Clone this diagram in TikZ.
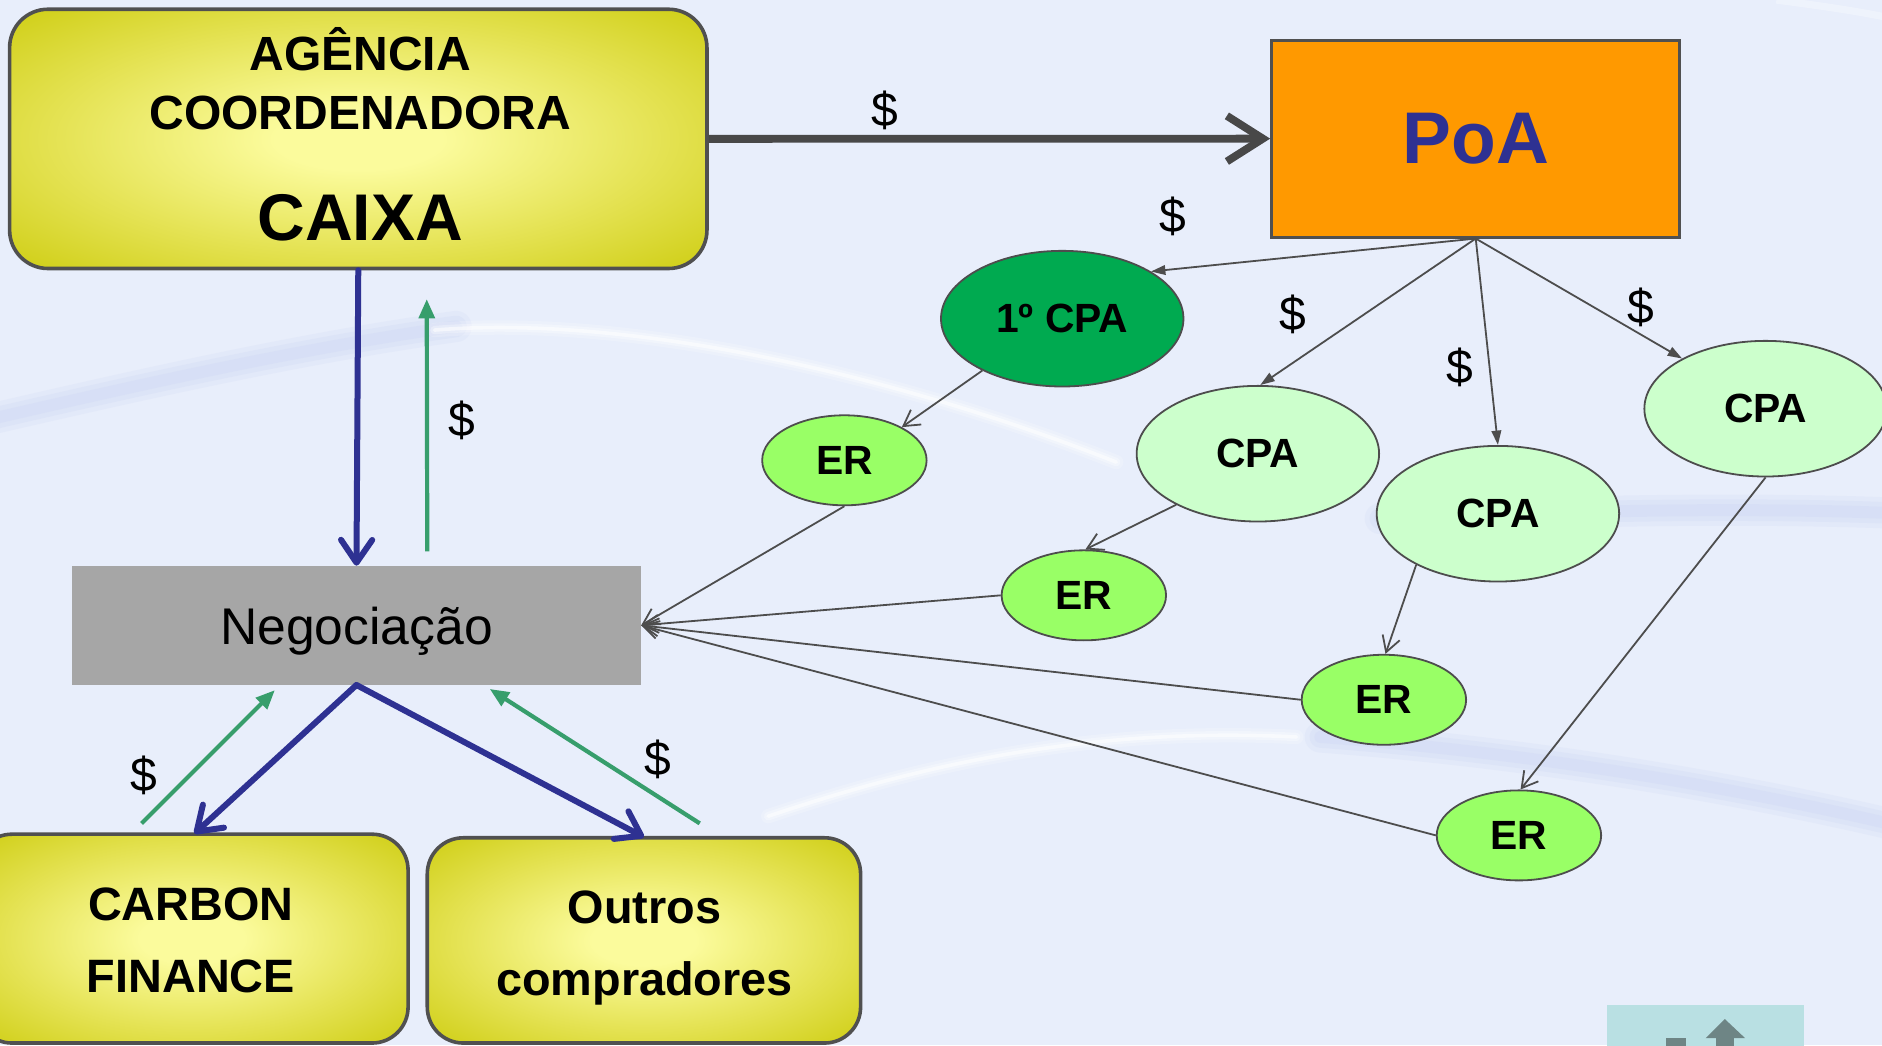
\documentclass[tikz,border=0pt]{standalone}
\usepackage{fontspec}
\setmainfont{Liberation Sans}
\usetikzlibrary{arrows.meta,shapes.geometric,calc}
\definecolor{bg}{HTML}{E8EEFB}
\definecolor{yin}{HTML}{FBFB9C}
\definecolor{ymid}{HTML}{E4E252}
\definecolor{yout}{HTML}{CECD12}
\definecolor{boxgray}{HTML}{505050}
\definecolor{poaorange}{HTML}{FF9900}
\definecolor{navy}{HTML}{2E3192}
\definecolor{garr}{HTML}{379E6C}
\definecolor{darkgr}{HTML}{00AA50}
\definecolor{lightgr}{HTML}{CCFFCC}
\definecolor{ergr}{HTML}{99FF66}
\definecolor{neggray}{HTML}{A6A6A6}
\definecolor{lgray}{HTML}{4D4D4D}
\definecolor{teal}{HTML}{B9E0E3}
\definecolor{icon}{HTML}{6E8585}
\definecolor{lav}{HTML}{D3DBF5}
\pgfdeclareradialshading{yglow}{\pgfpoint{0bp}{0bp}}{color(0bp)=(yin); color(6bp)=(yin); color(22bp)=(ymid); color(36bp)=(yout); color(100bp)=(yout)}
\begin{document}
\begin{tikzpicture}[x=1pt,y=-1pt,
  ybox/.style={draw=boxgray, line width=3pt, shading=yglow, inner sep=0pt},
  btxt/.style={font=\fontsize{39}{46}\selectfont\bfseries, anchor=base, inner sep=0pt},
  dol/.style={font=\fontsize{40}{46}\selectfont, inner sep=0pt},
  ell/.style={ellipse, draw=lgray, line width=1.5pt, inner sep=0pt, font=\fontsize{34}{40}\selectfont\bfseries},
  cpa/.style={ell, fill=lightgr, minimum width=202pt, minimum height=113pt},
  erel/.style={ell, fill=ergr, minimum width=137pt, minimum height=75pt},
  thickarr/.style={line width=6.5pt, draw=boxgray!90!black, -{Straight Barb[length=30pt,width=38pt]}},
  narr/.style={line width=5pt, draw=navy, line cap=round, -{Straight Barb[length=19pt,width=26pt,round]}},
  garrow/.style={line width=3.5pt, draw=garr, -{Triangle[length=16pt,width=13pt]}},
  parr/.style={line width=1.5pt, draw=lgray, -{Triangle[length=12pt,width=8pt]}},
  earr/.style={line width=1.5pt, draw=lgray, -{Straight Barb[length=13pt,width=15pt]}}
]
\useasboundingbox (0,0) rectangle (1568,871);
\clip (0,0) rectangle (1568,871);
\fill[bg] (0,0) rectangle (1568,871);
% background swooshes (soft)
\foreach \w/\o in {26/0.25,18/0.35,10/0.45}{
  \draw[lav, line width=\w pt, opacity=\o, line cap=round] (-20,352) .. controls (110,322) and (250,290) .. (380,272);
  \draw[lav, line width=\w pt, opacity=\o, line cap=round] (1150,432) .. controls (1300,426) and (1450,422) .. (1590,428);
  \draw[lav, line width=\w pt, opacity=\o, line cap=round] (1100,614) .. controls (1260,626) and (1430,652) .. (1590,690);
}
\foreach \w/\o in {12/0.18,7/0.3,3/0.55}{
  \draw[white, line width=\w pt, opacity=\o, line cap=round] (362,275) .. controls (520,262) and (740,310) .. (930,385);
  \draw[white, line width=\w pt, opacity=\o, line cap=round] (640,680) .. controls (760,640) and (900,605) .. (1080,614);
}
\draw[white, line width=6pt, opacity=0.3] (1480,0) .. controls (1510,4) and (1540,8) .. (1570,14);

% boxes
\node[ybox, rounded corners=32pt, minimum width=581pt, minimum height=216pt] (ag) at (298.5,115.7) {};
\node[btxt, font=\fontsize{40}{46}\selectfont\bfseries] (ag1) at (300,59) {AGÊNCIA};
\node[btxt, font=\fontsize{40}{46}\selectfont\bfseries] (ag2) at (300,107.5) {COORDENADORA};
\node[btxt, font=\fontsize{55}{60}\selectfont\bfseries] (ag3) at (300,200.5) {CAIXA};

\node[draw=boxgray, line width=2.5pt, fill=poaorange, minimum width=340pt, minimum height=164pt,
      font=\fontsize{61}{66}\selectfont\bfseries, text=navy] (poa) at (1229.5,115.5) {PoA};

\node[fill=neggray, minimum width=474pt, minimum height=99pt, text depth=0pt,
      font=\fontsize{43}{48}\selectfont, text=black] (neg) at (297,521) {Negociação};

\node[ybox, rounded corners=30pt, minimum width=360pt, minimum height=174pt] (cf) at (160,782) {};
\node[btxt] (cf1) at (159,767) {CARBON};
\node[btxt] (cf2) at (159,827) {FINANCE};

\node[ybox, rounded corners=30pt, minimum width=361pt, minimum height=171pt] (out) at (536.5,783.5) {};
\node[btxt] (out1) at (537,769) {Outros};
\node[btxt] (out2) at (537,829) {compradores};

% ellipses
\node[ell, fill=darkgr, minimum width=202pt, minimum height=113pt] (c0) at (885,265.5) {1º CPA};
\node[cpa] (c1) at (1048,378) {CPA};
\node[cpa] (c2) at (1248,428) {CPA};
\node[cpa] (c3) at (1471,340.5) {CPA};
\node[erel] (e1) at (703.5,383.5) {ER};
\node[erel] (e2) at (903,496) {ER};
\node[erel] (e3) at (1153,583) {ER};
\node[erel] (e4) at (1265.5,696) {ER};

% connectors
\draw[thickarr] (ag.east) -- (poa.west);
\draw[narr] (ag.south) -- (neg.north);
\draw[garrow, shorten <=12pt, shorten >=24pt] ([xshift=59pt]neg.north) -- ([xshift=57pt]ag.south);
\draw[narr] (neg.south) -- ([xshift=2pt,yshift=-1pt]cf.north);
\draw[narr] (neg.south) -- ([yshift=-1pt]out.north);
\coordinate (gs1) at (118,686);
\coordinate (ge1) at (229,575);
\coordinate (gs2) at (583,686);
\coordinate (ge2) at (408,574);
\draw[garrow] (gs1) -- (ge1);
\draw[garrow] (gs2) -- (ge2);

\draw[parr] (poa.south) -- (c0.28);
\draw[parr] (poa.south) -- (c1.88);
\draw[parr] (poa.south) -- (c2.north);
\draw[parr] (poa.south) -- (c3.149);

\draw[earr] (c0.213) -- (e1.30);
\draw[earr] (c1.212) -- (e2.88);
\draw[earr] (c2.212) -- (e3.88);
\draw[earr] (c3.south) -- (e4.88);

\draw[earr] (e1.south) -- (neg.east);
\draw[earr] (e2.west) -- (neg.east);
\draw[earr] (e3.west) -- (neg.east);
\draw[earr] (e4.west) -- (neg.east);

% dollar labels
\node[dol] (d1) at (737,92) {\$};
\node[dol] (d2) at (977,180) {\$};
\node[dol] (d3) at (1077,262) {\$};
\node[dol] (d4) at (1216,306) {\$};
\node[dol] (d5) at (1367,256) {\$};
\node[dol] (d6) at (385,350) {\$};
\node[dol] (d7) at (120,646) {\$};
\node[dol] (d8) at (548,633) {\$};

% bottom-right button
\fill[teal] (1339,837) rectangle (1503,880);
\fill[icon] (1437,849) -- (1454,865) -- (1421,865) -- cycle;
\fill[icon] (1430,864) rectangle (1445,880);
\fill[icon] (1388,865) rectangle (1405,880);
\end{tikzpicture}
\end{document}
